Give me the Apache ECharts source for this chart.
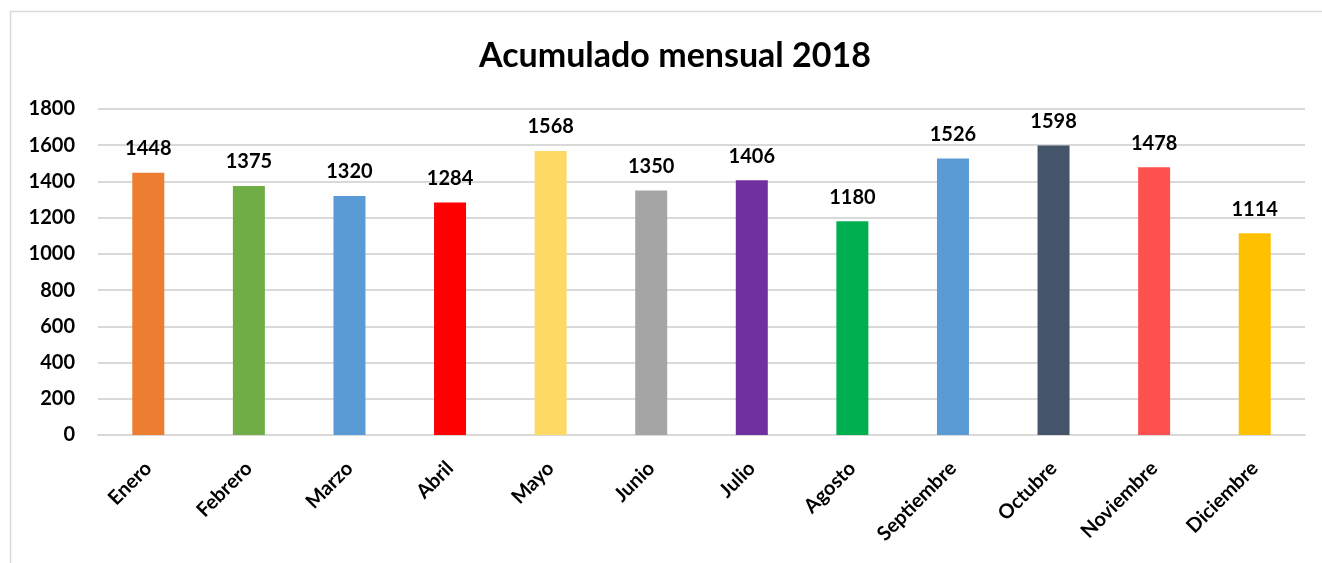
<!DOCTYPE html>
<html>
<head>
<meta charset="utf-8">
<script src="https://cdn.jsdelivr.net/npm/echarts@6/dist/echarts.min.js"></script>
<style>
  html, body { margin: 0; padding: 0; background: #fff; }
  #chart { width: 1322px; height: 563px; }
</style>
</head>
<body>
<div id="chart"></div>
<script>
const months = ['Enero', 'Febrero', 'Marzo', 'Abril', 'Mayo', 'Junio', 'Julio', 'Agosto', 'Septiembre', 'Octubre', 'Noviembre', 'Diciembre'];
const totals = [1448, 1375, 1320, 1284, 1568, 1350, 1406, 1180, 1526, 1598, 1478, 1114];
const barColors = ['#ed7d31', '#70ad47', '#5b9bd5', '#ff0000', '#ffd966', '#a5a5a5', '#7030a0', '#00b050', '#5b9bd5', '#44546a', '#ff5050', '#ffc000'];

const chart = echarts.init(document.getElementById('chart'));
const fontFamily = 'Lato, "Open Sans", sans-serif';
const lineColor = '#d9d9d9';

const option = {
  animation: false,
  graphic: [{
    type: 'rect',
    shape: { x: 10.5, y: 11.5, width: 1330, height: 600 },
    style: { fill: 'none', stroke: lineColor, lineWidth: 1.5 },
    silent: true
  }],
  title: {
    text: 'Acumulado mensual 2018',
    left: 474,
    top: 34,
    textStyle: { fontFamily: fontFamily, fontSize: 34, fontWeight: 'bold', color: '#000' }
  },
  grid: { left: 98, right: 17, top: 109, bottom: 128, containLabel: false },
  xAxis: {
    type: 'category',
    data: months,
    axisLine: { lineStyle: { color: lineColor, width: 2 } },
    axisTick: { show: false },
    axisLabel: {
      rotate: 45,
      interval: 0,
      margin: 30,
      color: '#000',
      fontFamily: fontFamily,
      fontSize: 20,
      fontWeight: 'bold'
    }
  },
  yAxis: {
    type: 'value',
    min: 0,
    max: 1800,
    interval: 200,
    axisLine: { show: false },
    axisTick: { show: false },
    axisLabel: {
      margin: 23,
      color: '#000',
      fontFamily: fontFamily,
      fontSize: 20,
      fontWeight: 'bold',
      formatter: v => String(v)
    },
    splitLine: { lineStyle: { color: lineColor, width: 2 } }
  },
  series: [{
    type: 'bar',
    data: totals.map((v, i) => ({ value: v, itemStyle: { color: barColors[i] } })),
    barWidth: 32,
    label: {
      show: true,
      position: 'top',
      distance: 14,
      color: '#000',
      fontFamily: fontFamily,
      fontSize: 20,
      fontWeight: 'bold'
    }
  }]
};
chart.setOption(option);
</script>
</body>
</html>
